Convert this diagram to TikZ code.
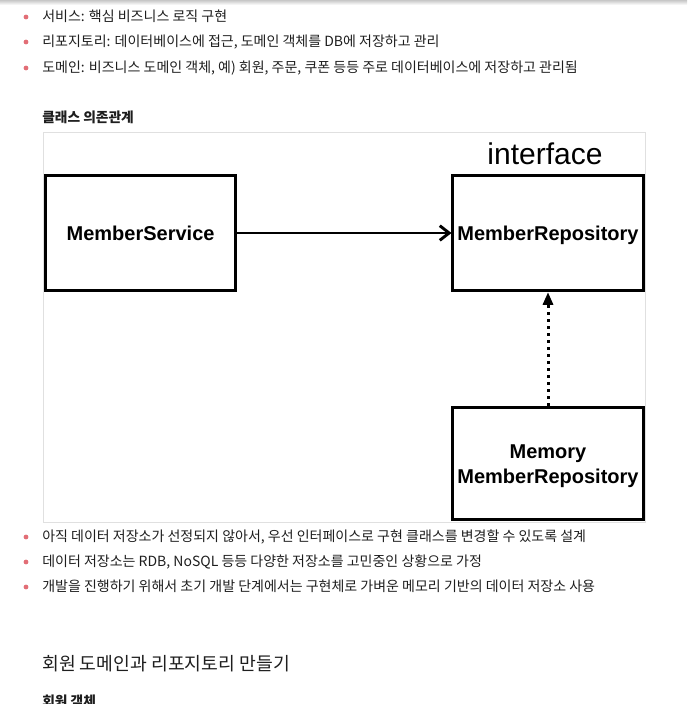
\documentclass[tikz,border=0pt]{standalone}
\usepackage{fontspec}
\usepackage{xcolor}
\usepackage{tikz}
\usetikzlibrary{arrows.meta}

\newfontfamily\krfont{Noto Sans CJK KR}
\newfontfamily\umlfont{Liberation Sans}
\definecolor{bulletred}{RGB}{226,110,118}
\definecolor{bodytext}{RGB}{30,30,30}
\definecolor{framegray}{RGB}{224,224,224}

\begin{document}
\begin{tikzpicture}[
  x=0.75pt, y=-0.75pt,
  line/.style={
    anchor=base west,
    inner sep=0pt,
    text=bodytext,
    font=\krfont\fontsize{10.5}{12}\selectfont
  },
  dot/.style={circle, fill=bulletred, inner sep=0pt, minimum size=3.6pt},
  caption/.style={anchor=base west, inner sep=0pt, text=bodytext,
    font=\krfont\bfseries\fontsize{10.3}{12}\selectfont},
  heading/.style={anchor=base west, inner sep=0pt, text=bodytext,
    font=\krfont\fontsize{13.7}{16}\selectfont},
  cls/.style={
    draw,
    line width=2.25pt,
    minimum width=143pt,
    minimum height=86.5pt,
    align=center,
    text depth=0pt,
    font=\umlfont\bfseries\fontsize{15}{18.75}\selectfont
  },
  dep/.style={line width=1.5pt, -{Straight Barb[length=7pt,width=11pt,line width=2.2pt]}},
  impl/.style={line width=2.25pt, dash pattern=on 2.25pt off 3pt,
    -{Triangle[length=9.5pt,width=7.5pt]}}
]
  \useasboundingbox (0,0) rectangle (687,704);
  \shade[top color=black!22, bottom color=white] (0,0) rectangle (687,5);

  % notes above the diagram
  \node[dot] (d1) at (26,17) {};
  \node[line] (l1) at (42,21.7) {서비스: 핵심 비즈니스 로직 구현};
  \node[dot] (d2) at (26,42) {};
  \node[line] (l2) at (42,46.7) {리포지토리: 데이터베이스에 접근, 도메인 객체를 DB에 저장하고 관리};
  \node[dot] (d3) at (26,68) {};
  \node[line] (l3) at (42,72.7) {도메인: 비즈니스 도메인 객체, 예) 회원, 주문, 쿠폰 등등 주로 데이터베이스에 저장하고 관리됨};

  \node[caption] (cap) at (42,122) {클래스 의존관계};

  % class diagram
  \draw[framegray, line width=0.75pt] (43.5,132) rectangle (645.5,522);
  \node[cls] (service) at (140.6,233) {MemberService};
  \node[cls, minimum width=142.5pt] (repo) at (548,233) {MemberRepository};
  \node[anchor=base, inner sep=0pt, font=\umlfont\fontsize{22.5}{27}\selectfont] (iface) at (545,164) {interface};
  \node[cls, minimum height=84.4pt] (memory) at (548,463.7) {Memory\\MemberRepository};

  \draw[dep] (service) -- (repo);
  \draw[impl] (memory) -- (repo);

  % notes below the diagram
  \node[dot] (d4) at (26,537) {};
  \node[line] (l4) at (42,541.7) {아직 데이터 저장소가 선정되지 않아서, 우선 인터페이스로 구현 클래스를 변경할 수 있도록 설계};
  \node[dot] (d5) at (26,562) {};
  \node[line] (l5) at (42,566.7) {데이터 저장소는 RDB, NoSQL 등등 다양한 저장소를 고민중인 상황으로 가정};
  \node[dot] (d6) at (26,587) {};
  \node[line] (l6) at (42,591.7) {개발을 진행하기 위해서 초기 개발 단계에서는 구현체로 가벼운 메모리 기반의 데이터 저장소 사용};

  \node[heading] (h1) at (42,670.7) {회원 도메인과 리포지토리 만들기};
  \node[caption] (cap2) at (42,706) {회원 객체};
\end{tikzpicture}
\end{document}
